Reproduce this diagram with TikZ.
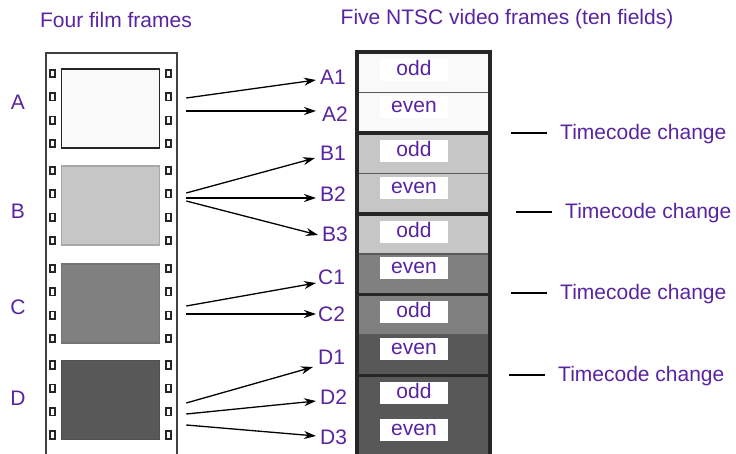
\documentclass[tikz,border=0pt]{standalone}
\usepackage{fontspec}
\setmainfont{Liberation Sans}
\usepackage{xcolor}
\usepackage{tikz}
\usetikzlibrary{arrows.meta,calc,positioning}
\definecolor{txtpurple}{RGB}{88,36,160}
\definecolor{shadeA}{RGB}{249,249,249}
\definecolor{shadeB}{RGB}{198,198,198}
\definecolor{shadeC}{RGB}{128,128,128}
\definecolor{shadeD}{RGB}{88,88,88}

\begin{document}
\begin{tikzpicture}[x=1pt,y=-1pt,
  lbl/.style={text=txtpurple,font=\fontsize{21}{24}\selectfont,inner sep=1pt,text height=15pt,text depth=4pt},
  frm/.style={minimum width=98pt,minimum height=79pt,inner sep=0pt,line width=1.5pt},
  hole/.style={draw=black!85,fill=white,line width=1.6pt,minimum width=5.5pt,minimum height=7.5pt,inner sep=0pt},
  fld/.style={minimum width=133pt,minimum height=40.4pt,inner sep=0pt},
  tag/.style={lbl,fill=white,minimum width=68pt,minimum height=22pt,inner sep=0pt},
  arr/.style={-{Stealth[length=12pt,width=8pt]},line width=1.3pt}]
\path[use as bounding box,clip] (0,0) rectangle (736,454);

\node[lbl] (title1) at (116,22) {Four film frames};
\node[lbl] (title2) at (507,19) {Five NTSC video frames (ten fields)};

\draw[line width=1.5pt,black!75] (46,460) -- (46,53) -- (177,53) -- (177,460);
\foreach \f/\y/\c/\b/\ly in {A/108.5/shadeA/black!85/104,B/205.5/shadeB/shadeB!85!black/213,
  C/303.5/shadeC/shadeC!90!black/309,D/400/shadeD/shadeD!90!black/400}
{\node[frm,fill=\c,draw=\b] (f\f) at (110.5,\y) {};
 \node[lbl] (l\f) at (18,\ly) {\f};
 \foreach \dy [count=\k] in {-35,-11.7,11.7,35}
 {\node[hole] (hl\f\k) at ($(f\f.center)+(-58,\dy)$) {};
  \node[hole] (hr\f\k) at ($(f\f.center)+(58,\dy)$) {};}}

\foreach \k/\c/\t/\dy in {1/shadeA/odd/18,2/shadeA/even/14.5,3/shadeB/odd/18,4/shadeB/even/14.5,
  5/shadeB/odd/18,6/shadeC/even/14.5,7/shadeC/odd/18,8/shadeD/even/14.5,9/shadeD/odd/18,10/shadeD/even/14.5}
{\node[fld,fill=\c] (v\k) at (423.5,{52+40.4*(\k-1)+20.2}) {};
 \node[tag] (w\k) at (414,{52+40.4*(\k-1)+\dy}) {\t};}
\foreach \k in {1,3,5,7,9}
{\draw[line width=1.5pt,black!65] (v\k.south west) -- (v\k.south east);}
\foreach \k in {2,4,6,8}
{\draw[line width=3.5pt,black!85] (v\k.south west) -- (v\k.south east);}
\draw[line width=3.5pt,black!85] ($(v10.south west)+(0,6)$) -- (v1.north west) -- (v1.north east) -- ($(v10.south east)+(0,6)$);

\foreach \n/\x/\y in {A1/320/79,A2/322/116,B1/320/155,B2/320/196,B3/322/236,
  C1/318/279,C2/318/316,D1/318/359,D2/320/399,D3/320/439}
{\node[lbl,anchor=west] (\n) at (\x-1,\y) {\n};}
\foreach \f/\n/\sy/\ex/\ey in {A/A1/-10.5/-3/1,A/A2/2.5/-5/-5,B/B1/-12.5/-4/3,B/B2/-7.5/-3/2,
  B/B3/-4.5/-3/-1,C/C1/2.5/-1/4,C/C2/10.5/-1/-2,D/D1/3/-4/8,D/D2/14/-3/2,D/D3/25/-3/-3}
{\draw[arr] ($(f\f.east)+(26,\sy)$) -- ($(\n.west)+(\ex,\ey)$);}

\foreach \k/\x/\y in {1/560/134,2/565/213,3/560/294,4/558/376}
{\node[lbl,anchor=west] (tc\k) at (\x-1,\y) {Timecode change};
 \draw[line width=1.5pt] ($(tc\k.west)+(-12,-1)$) -- ++(-36,0);}
\end{tikzpicture}
\end{document}
